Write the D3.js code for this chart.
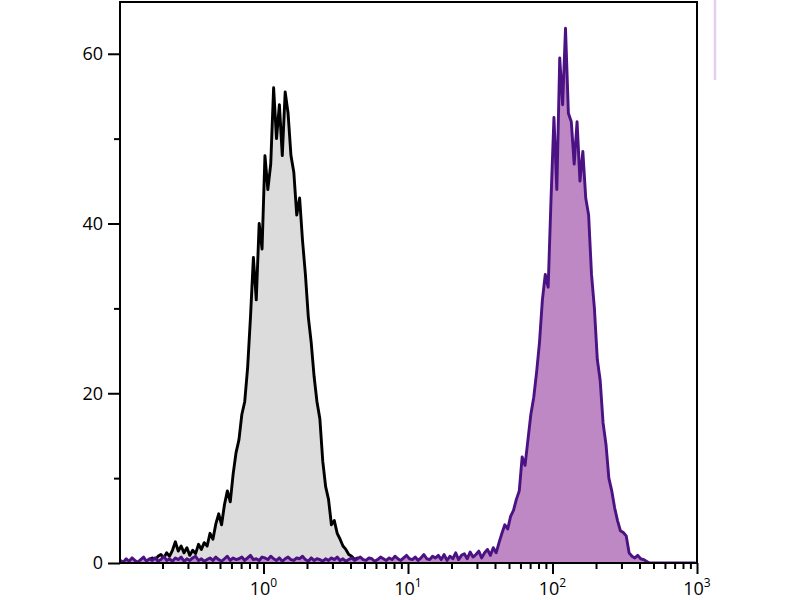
<!DOCTYPE html>
<html>
<head>
<meta charset="utf-8">
<script src="https://cdn.jsdelivr.net/npm/d3@7"></script>
<style>
  body { margin: 0; background: #fff; }
  svg { display: block; font-family: "Open Sans", sans-serif; }
</style>
</head>
<body>
<svg id="chart" width="800" height="600"></svg>
<script>
// --- DATA: histogram counts, 50 bins per decade starting at 10^-1 ---
const binStartLog = -1;
const binWidthLog = 0.02;

// unstained control (grey, black outline)
const controlCounts = [
  0.2, 0, 0.3, 0.1, 0.4, 0.2, 0, 0.3, 0.5, 0.2, 0.4, 0.6, 0.3, 0.8,
  1.0, 0.6, 1.2, 0.8, 1.5,
  2.5, 1.4, 2.0, 1.2, 1.8,
  0.9, 1.5, 1.1, 2.2, 1.6, 2.4, 2.0,
  3.5, 2.8, 4.6,
  5.8, 4.5, 6.9,
  8.5, 7.2, 10.5,
  13, 14.5, 17.5,
  19, 23, 29, 36, 31, 40, 37, 48, 44, 47, 56, 50, 54, 48, 55.5, 53, 48, 46,
  41, 43, 38, 34, 29, 26, 22, 19, 17, 12, 9, 7.5, 4.5, 5, 3.5, 2.8, 2, 1.6,
  1, 0.8, 0.4, 0.6, 0.2,
  0.1, 0, 0.2, 0, 0, 0
];

// stained sample (purple)
const stainedCounts = [
  0.3, 0.1, 0.5, 0.2, 0.6, 0.3, 0.1, 0.4, 0.7, 0.2, 0.5, 0.3, 0.6, 0.2, 0.4, 0.8, 0.3, 0.5, 0.2, 0.6,
  0.4, 0.7, 0.2, 0.5, 0.3, 0.6, 0.8, 0.3, 0.5, 0.2, 0.4, 0.6, 0.3, 0.7, 0.4, 0.2, 0.5, 0.8, 0.3, 0.6,
  0.4, 0.5, 0.7, 0.3, 0.6, 0.9, 0.4, 0.5, 0.3, 0.7, 0.6, 0.4, 0.8, 0.5, 0.3, 0.6, 0.2, 0.5, 0.7, 0.4,
  0.3, 0.6, 0.5, 0.8, 0.4, 0.2, 0.6, 0.3, 0.5, 0.4, 0.2, 0.5, 0.3, 0.6, 0.4, 0.7, 0.3, 0.5, 0.2, 0.4,
  0.6, 0.3, 0.5, 0.7, 0.4, 0.3, 0.6, 0.5, 0.2, 0.4, 0.7, 0.5, 0.3, 0.6, 0.4, 0.8, 0.5, 0.3, 0.6, 0.9,
  0.5, 0.4, 0.7, 0.3, 0.6, 1.0, 0.5, 0.4, 0.8, 0.6, 0.9,
  0.4, 1.0, 0.3, 0.8, 0.5, 1.2, 0.4, 0.9, 1.1, 0.5, 1.3, 0.7, 1.0, 1.4, 0.6, 1.2, 1.6, 0.9,
  1.8, 1.2, 2.4,
  3.5, 4.5, 4.0, 5.5, 6.2, 7.5, 8.5, 12.5, 11.5, 14.5, 17.5, 19.5, 22.5, 26, 31, 34, 32.5,
  43, 52.5, 44, 59.5, 54, 63, 53, 52, 47, 52, 45, 48.5, 43, 41, 34, 30, 24, 21.5, 16.5,
  14, 10, 8.5, 6.5, 5, 3.8, 3.6, 3.2, 1.2, 0.8, 0.6, 0.9, 0.5, 0.4, 0.2,
  0, 0, 0, 0, 0, 0, 0, 0, 0, 0, 0, 0, 0, 0, 0, 0, 0
];

const yMajorTicks = [0, 20, 40, 60];
const yMinorTicks = [10, 30, 50];
const xDecades = [0, 1, 2, 3];
const xMinorTicks = [];
[-1, 0, 1, 2].forEach(e => { for (let m = 2; m <= 9; m++) xMinorTicks.push(m * Math.pow(10, e)); });

// --- LAYOUT ---
const svg = d3.select("#chart");
const plotLeft = 120, plotRight = 697, plotTop = 2, plotBottom = 563;

const x = d3.scaleLog().domain([0.1, 1000]).range([119, 697]);
const y = d3.scaleLinear().domain([0, 66.1]).range([plotBottom, plotTop]);

function toPoints(counts) {
  return counts.map((c, i) => [Math.pow(10, binStartLog + binWidthLog * (i + 0.5)), c]);
}

const area = d3.area()
  .x(d => x(d[0]))
  .y0(y(0))
  .y1(d => y(d[1]));
const line = d3.line()
  .x(d => x(d[0]))
  .y(d => y(d[1]));

svg.append("clipPath").attr("id", "clip")
  .append("rect").attr("x", plotLeft).attr("y", plotTop)
  .attr("width", plotRight - plotLeft).attr("height", plotBottom - plotTop);

const layer = svg.append("g").attr("clip-path", "url(#clip)");

// control histogram
const ctrl = toPoints(controlCounts);
layer.append("path").datum(ctrl).attr("d", area).attr("fill", "#dcdcdc");
layer.append("path").datum(ctrl).attr("d", line)
  .attr("fill", "none").attr("stroke", "#000").attr("stroke-width", 2.9).attr("stroke-linejoin", "round");

// stained histogram on top
const stained = toPoints(stainedCounts);
layer.append("path").datum(stained).attr("d", area).attr("fill", "#bd88c3");
layer.append("path").datum(stained).attr("d", line)
  .attr("fill", "none").attr("stroke", "#4a1282").attr("stroke-width", 2.9).attr("stroke-linejoin", "round");

// frame
svg.append("rect")
  .attr("x", plotLeft).attr("y", plotTop)
  .attr("width", plotRight - plotLeft).attr("height", plotBottom - plotTop)
  .attr("fill", "none").attr("stroke", "#000").attr("stroke-width", 2);

// --- Y AXIS ---
const yAxis = svg.append("g").attr("transform", `translate(${plotLeft},0)`)
  .call(d3.axisLeft(y).tickValues(yMajorTicks).tickSize(12).tickPadding(5).tickFormat(d3.format("d")));
yAxis.select(".domain").remove();
yAxis.selectAll(".tick line").attr("stroke", "#000").attr("stroke-width", 2);
yAxis.selectAll(".tick text").attr("font-size", 18).attr("fill", "#000").attr("font-family", "Open Sans");

const yMinor = svg.append("g").attr("transform", `translate(${plotLeft},0)`)
  .call(d3.axisLeft(y).tickValues(yMinorTicks).tickSize(6).tickFormat(""));
yMinor.select(".domain").remove();
yMinor.selectAll(".tick line").attr("stroke", "#000").attr("stroke-width", 2);

// --- X AXIS ---
const xAxis = svg.append("g").attr("transform", `translate(0,${plotBottom})`)
  .call(d3.axisBottom(x).tickValues(xDecades.map(e => Math.pow(10, e))).tickSize(11).tickFormat(""));
xAxis.select(".domain").remove();
xAxis.selectAll(".tick line").attr("stroke", "#000").attr("stroke-width", 2);

const xMinor = svg.append("g").attr("transform", `translate(0,${plotBottom})`)
  .call(d3.axisBottom(x).tickValues(xMinorTicks).tickSize(6).tickFormat(""));
xMinor.select(".domain").remove();
xMinor.selectAll(".tick line").attr("stroke", "#000").attr("stroke-width", 2);

const xLabels = svg.append("g").selectAll("text").data(xDecades).join("text")
  .attr("x", d => x(Math.pow(10, d)))
  .attr("y", 595)
  .attr("text-anchor", "middle")
  .attr("font-size", 18)
  .attr("fill", "#000");
xLabels.append("tspan").text("10");
xLabels.append("tspan").attr("dy", -8).attr("font-size", 12).text(d => d);

// legend box edge (the rest lies outside the picture)
svg.append("line")
  .attr("x1", 715).attr("x2", 715).attr("y1", 0).attr("y2", 80)
  .attr("stroke", "#e4cdee").attr("stroke-width", 2.5);
</script>
</body>
</html>
